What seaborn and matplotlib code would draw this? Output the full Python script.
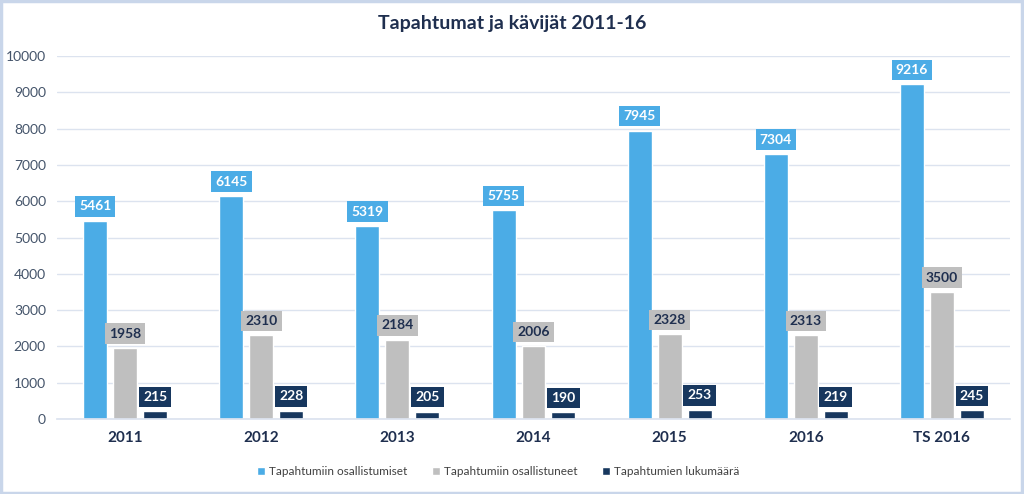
import matplotlib
matplotlib.use("Agg")
import matplotlib.pyplot as plt
import seaborn as sns
import pandas as pd
from matplotlib.patches import Rectangle

categories = ["2011", "2012", "2013", "2014", "2015", "2016", "TS 2016"]
series_names = ["Tapahtumiin osallistumiset", "Tapahtumiin osallistuneet", "Tapahtumien lukumäärä"]
osallistumiset = [5461, 6145, 5319, 5755, 7945, 7304, 9216]
osallistuneet = [1958, 2310, 2184, 2006, 2328, 2313, 3500]
lukumaara = [215, 228, 205, 190, 253, 219, 245]
y_ticks = [0, 1000, 2000, 3000, 4000, 5000, 6000, 7000, 8000, 9000, 10000]

colors = ["#4BACE6", "#BFBFBF", "#17375E"]
label_text_colors = ["white", "#1F2F4F", "white"]

rows = []
for name, vals in zip(series_names, [osallistumiset, osallistuneet, lukumaara]):
    for c, v in zip(categories, vals):
        rows.append({"Vuosi": c, "Sarja": name, "Arvo": v})
df = pd.DataFrame(rows)

sns.set_theme(style="white")
plt.rcParams["font.family"] = ["Lato", "DejaVu Sans"]

fig = plt.figure(figsize=(10.24, 4.94), dpi=100)
ax = fig.add_axes([57/1024, 1 - 419/494, (1010 - 57)/1024, (419 - 56)/494])

sns.barplot(data=df, x="Vuosi", y="Arvo", hue="Sarja", order=categories,
            hue_order=series_names, palette=colors, width=0.66, gap=0.2,
            saturation=1, ax=ax, legend=True)

ax.set_ylim(0, 10000)
ax.set_xlim(-0.5, len(categories) - 0.5)
ax.set_yticks(y_ticks)
ax.set_yticklabels([str(t) for t in y_ticks], color="#44546A", fontsize=10)
ax.tick_params(axis="y", length=0, pad=8)
ax.tick_params(axis="x", length=0, pad=9)
for lab in ax.get_xticklabels():
    lab.set_fontweight("bold")
    lab.set_fontsize(11)
    lab.set_color("#1F2F4F")
ax.set_xlabel("")
ax.set_ylabel("")
ax.grid(axis="y", color="#DCE3EF", linewidth=1)
ax.set_axisbelow(True)
for s in ["top", "right", "left"]:
    ax.spines[s].set_visible(False)
ax.spines["bottom"].set_color("#DCE3EF")

for cont, fc, tc in zip(ax.containers, colors, label_text_colors):
    labels = ax.bar_label(cont, labels=[str(int(round(b.get_height()))) for b in cont],
                          padding=6, fontsize=10, fontweight="bold", color=tc)
    for t in labels:
        t.set_bbox(dict(boxstyle="square,pad=0.3", facecolor=fc, edgecolor="none"))

leg = ax.legend(loc="upper center", bbox_to_anchor=(0.463, -0.1), ncol=3, frameon=False,
                fontsize=8.5, handlelength=0.7, handleheight=0.7, handletextpad=0.3,
                columnspacing=2.1)
for t in leg.get_texts():
    t.set_color("#404040")

fig.text(0.5, 1 - 24/494, "Tapahtumat ja kävijät 2011-16", ha="center", va="center",
         fontsize=14, fontweight="bold", color="#1F2F4F")

fig.patches.append(Rectangle((0.001, 0.002), 0.997, 0.995, transform=fig.transFigure,
                             fill=False, edgecolor="#C9D6EA", linewidth=2.5))

fig.savefig("out.png", dpi=100)
